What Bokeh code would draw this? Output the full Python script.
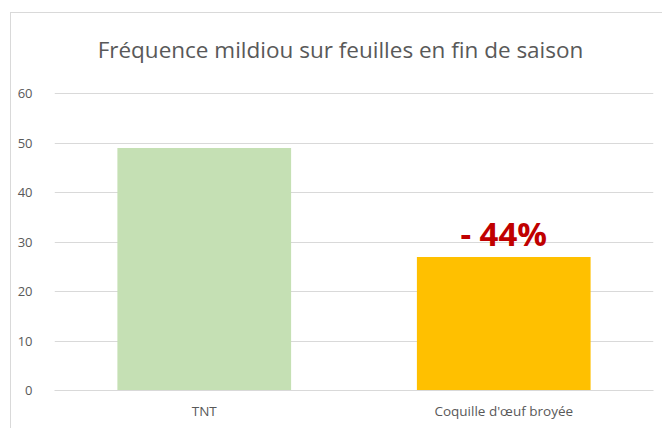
from bokeh.plotting import figure
from bokeh.models import FactorRange, Range1d, FixedTicker, ColumnDataSource, Label
from bokeh.core.properties import value
from bokeh.embed import file_html
from bokeh.resources import INLINE

categories = ["TNT", "Coquille d'œuf broyée"]
values = [49, 27]
colors = ["#C5E0B4", "#FFC000"]
labels = ["", "- 44%"]
y_ticks = [0, 10, 20, 30, 40, 50, 60]
title_text = "Fréquence mildiou sur feuilles en fin de saison"

src = ColumnDataSource(dict(cat=categories, val=values, col=colors, lab=labels))

# y range extends above 60 to leave room for the title inside the frame
p = figure(
    x_range=FactorRange(*categories, range_padding=0),
    y_range=Range1d(0, 76.2),
    width=652, height=416,
    output_backend="svg", toolbar_location=None,
    min_border_left=43, min_border_right=10, min_border_top=0, min_border_bottom=39,
)
p.styles = {"border-left": "1px solid #D9D9D9", "border-top": "1px solid #D9D9D9"}
p.margin = (12, 0, 0, 10)
p.title.visible = False

# title placed in screen pixels relative to the plot frame's bottom-left corner
title = Label(x=286, y=341, x_units="screen", y_units="screen", text=title_text,
              text_align="center", text_baseline="middle", text_font="Open Sans",
              text_font_size="22.5px", text_color="#595959")
p.add_layout(title)

p.vbar(x="cat", top="val", width=0.58, color="col", source=src, line_color=None)
p.text(x="cat", y="val", text="lab", source=src, text_align="center",
       text_baseline="alphabetic", y_offset=-23, text_color="#C00000",
       text_font=value("Open Sans"), text_font_style="bold", text_font_size="33px")

p.outline_line_color = None
p.background_fill_color = "white"
p.border_fill_color = "white"

p.xgrid.grid_line_color = None
p.ygrid.grid_line_color = "#D9D9D9"
p.ygrid.grid_line_width = 1
p.yaxis.ticker = FixedTicker(ticks=y_ticks)

p.yaxis.axis_line_color = None
p.yaxis.major_tick_line_color = None
p.yaxis.minor_tick_line_color = None
p.yaxis.major_label_standoff = 16
p.yaxis.major_label_text_font = "Open Sans"
p.yaxis.major_label_text_font_size = "13px"
p.yaxis.major_label_text_color = "#595959"

p.xaxis.axis_line_color = "#D9D9D9"
p.xaxis.major_tick_line_color = None
p.xaxis.minor_tick_line_color = None
p.xaxis.major_label_standoff = 5
p.xaxis.major_label_text_font = "Open Sans"
p.xaxis.major_label_text_font_size = "13.5px"
p.xaxis.major_label_text_color = "#595959"

open("out.html", "w").write(file_html(p, INLINE))
